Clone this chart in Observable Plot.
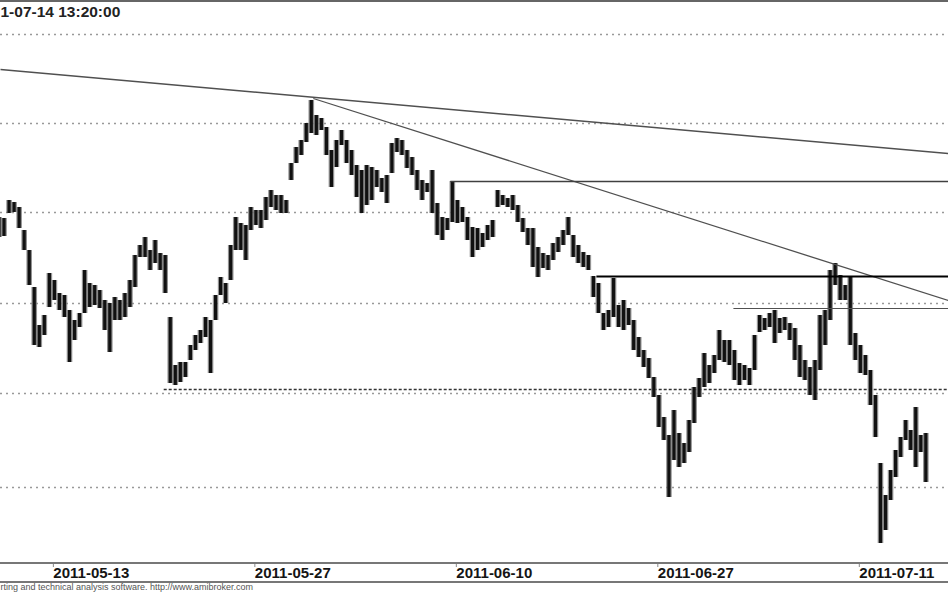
<!DOCTYPE html>
<html>
<head>
<meta charset="utf-8">
<script src="https://cdn.jsdelivr.net/npm/d3@7"></script>
<script src="https://cdn.jsdelivr.net/npm/@observablehq/plot@0.6"></script>
<style>
  html, body { margin: 0; padding: 0; background: #fff; }
  #chart { width: 948px; height: 593px; overflow: hidden; }
</style>
</head>
<body>
<div id="chart"></div>
<script>
// Bar highs and lows (price points), one per bar, in bar-index order
const highs = [383,382,400,398,393,370,350,313,275,285,
  327,320,307,305,290,280,287,330,317,315,
  310,300,297,303,300,307,320,345,355,363,
  350,360,347,345,283,235,238,238,255,265,
  270,283,280,305,323,317,355,383,377,375,
  393,390,390,403,410,405,405,400,437,453,
  460,477,500,485,482,473,450,460,470,460,
  450,435,430,435,433,430,422,425,457,462,
  460,450,443,430,420,417,430,397,383,382,
  419,400,393,383,373,372,367,375,380,410,
  405,402,405,395,382,372,372,353,347,345,
  357,363,370,383,365,355,348,345,324,317,
  287,290,322,295,300,292,280,263,250,242,
  223,205,183,165,190,167,157,180,213,222,
  247,235,245,270,260,260,250,237,235,232,
  265,285,282,287,290,282,283,277,272,255,
  240,233,240,285,290,330,337,325,315,323,
  267,255,245,230,205,137,105,130,150,163,
  180,170,193,165,167];
const lows = [363,364,387,388,372,350,315,255,253,265,
  293,300,290,283,238,260,273,287,293,295,
  292,270,248,280,280,283,293,313,343,343,
  330,337,330,307,217,215,218,223,240,250,
  257,263,227,280,305,297,320,350,350,340,
  370,375,372,380,393,390,387,387,420,437,
  445,458,467,465,470,445,413,433,455,437,
  425,403,387,395,400,413,408,397,427,448,
  445,432,425,410,400,408,387,365,360,370,
  378,377,378,360,343,350,353,360,363,393,
  395,393,390,378,368,355,333,323,332,330,
  340,348,355,365,343,337,333,330,303,287,
  270,273,283,273,270,275,250,243,233,222,
  203,173,160,103,140,133,137,148,177,203,
  213,217,227,240,238,235,220,215,220,215,
  230,268,270,273,257,267,270,260,240,223,
  220,205,200,230,255,280,315,300,300,255,
  240,227,225,195,163,57,70,100,123,143,
  160,150,133,148,118];

// Date axis: bar index of each labelled session start
const tickBars = [10, 50, 90, 130, 170];
const tickLabels = ["2011-05-13", "2011-05-27", "2011-06-10", "2011-06-27", "2011-07-11"];

// Horizontal price gridlines
const gridLevels = [566, 477, 388, 297, 207, 113];

// Drawn studies: [barIndex, price] endpoints
const longTrend = [[0.3, 531], [188.5, 447]];
const shortTrend = [[62.4, 502], [188.5, 300]];
const resistA = [[89.6, 419], [188.5, 419]];
const resistB = [[118.6, 324], [188.5, 324]];
const resistC = [[145.8, 292], [188.5, 292]];
const supportD = [[32.7, 211], [188.5, 211]];

const title = "1-07-14 13:20:00";
const footer = "rting and technical analysis software. http://www.amibroker.com";

const bars = highs.map((h, i) => ({i, hi: h, lo: lows[i]}));
const seg = (pts) => [{x1: pts[0][0], y1: pts[0][1], x2: pts[1][0], y2: pts[1][1]}];
const linkOpts = {x1: "x1", y1: "y1", x2: "x2", y2: "y2"};

const chart = Plot.plot({
  width: 948,
  height: 593,
  marginTop: 2,
  marginBottom: 31,
  marginLeft: 0,
  marginRight: 0,
  x: {domain: [0.3, 188.5], axis: null},
  y: {domain: [38, 598], axis: null},
  style: {fontFamily: "'Liberation Sans', Arial, sans-serif", background: "#fff", overflow: "visible"},
  marks: [
    Plot.ruleY(gridLevels, {stroke: "#999", strokeDasharray: "2,4", strokeWidth: 1.3}),
    Plot.link(seg(supportD), {...linkOpts, stroke: "#333", strokeDasharray: "3,2", strokeWidth: 1.3}),
    Plot.ruleX(bars, {x: "i", y1: "lo", y2: "hi", stroke: "#777", strokeWidth: 5.6, strokeOpacity: 0.8}),
    Plot.ruleX(bars, {x: "i", y1: "lo", y2: "hi", stroke: "#111", strokeWidth: 3.2}),
    Plot.link(seg(longTrend), {...linkOpts, stroke: "#505050", strokeWidth: 1.5}),
    Plot.link(seg(shortTrend), {...linkOpts, stroke: "#505050", strokeWidth: 1.3}),
    Plot.link(seg(resistA), {...linkOpts, stroke: "#404040", strokeWidth: 1.4}),
    Plot.link(seg(resistB), {...linkOpts, stroke: "#000", strokeWidth: 2.2}),
    Plot.link(seg(resistC), {...linkOpts, stroke: "#505050", strokeWidth: 1.2}),
    Plot.axisX(tickBars, {
      tickFormat: (d) => tickLabels[tickBars.indexOf(d)],
      tickSize: 5, tickPadding: 0, textAnchor: "start", dx: 4,
      fontSize: 15, fontWeight: "bold", stroke: "#888", fill: "#151515"
    }),
    Plot.text([title], {frameAnchor: "top-left", dy: 3, fontSize: 15.5, fontWeight: "bold", fill: "#222"}),
    Plot.text([footer], {frameAnchor: "bottom-left", dy: 27, fontSize: 9, fill: "#555"})
  ]
});

document.getElementById("chart").appendChild(chart);

// Window frame lines (top border and the date strip)
const svg = d3.select(chart);
[[1, "#666", 2], [563, "#777", 2], [582, "#777", 2]].forEach(([y, c, w]) => {
  svg.append("line").attr("x1", 0).attr("x2", 948).attr("y1", y).attr("y2", y)
    .attr("stroke", c).attr("stroke-width", w);
});
</script>
</body>
</html>
